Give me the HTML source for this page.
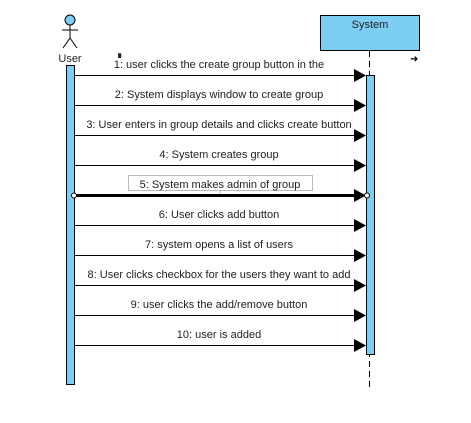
<!DOCTYPE html>
<html><head><style>body{margin:0;background:#fff}</style></head><body>
<svg width="471" height="418" xmlns="http://www.w3.org/2000/svg" font-family="Liberation Sans, sans-serif" font-size="11" fill="#222">
<rect width="471" height="418" fill="#fff"/>
<!-- actor -->
<circle cx="70" cy="20" r="5" fill="#7ccff3" stroke="#000"/>
<line x1="70" y1="25" x2="70" y2="38" stroke="#000"/>
<line x1="62" y1="30" x2="78" y2="30" stroke="#000"/>
<line x1="70" y1="38" x2="63" y2="48" stroke="#000"/>
<line x1="70" y1="38" x2="77" y2="48" stroke="#000"/>
<text x="70" y="62" text-anchor="middle">User</text>
<text x="115" y="56" font-size="8">▗</text>
<!-- system -->
<rect x="320.5" y="15.5" width="99" height="35" fill="#7ccff3" stroke="#000"/>
<text x="370" y="28" text-anchor="middle">System</text>
<text x="410" y="62" font-size="10" fill="#000">➜</text>
<line x1="369.5" y1="51" x2="369.5" y2="390" stroke="#000" stroke-dasharray="6,4"/>
<rect x="66.5" y="65.5" width="8" height="319" fill="#7ccff3" stroke="#000"/>
<rect x="366.5" y="75.5" width="8" height="279" fill="#7ccff3" stroke="#000"/>
<g stroke="#000">
<line x1="75" y1="75.5" x2="356" y2="75.5"/>
<line x1="75" y1="105.5" x2="356" y2="105.5"/>
<line x1="75" y1="135.5" x2="356" y2="135.5"/>
<line x1="75" y1="165.5" x2="356" y2="165.5"/>
<line x1="75" y1="195.5" x2="356" y2="195.5" stroke-width="3"/>
<line x1="75" y1="225.5" x2="356" y2="225.5"/>
<line x1="75" y1="255.5" x2="356" y2="255.5"/>
<line x1="75" y1="285.5" x2="356" y2="285.5"/>
<line x1="75" y1="315.5" x2="356" y2="315.5"/>
<line x1="75" y1="345.5" x2="356" y2="345.5"/>
</g>
<g fill="#000">
<polygon points="354,69 366,75.5 354,82"/>
<polygon points="354,99 366,105.5 354,112"/>
<polygon points="354,129 366,135.5 354,142"/>
<polygon points="354,159 366,165.5 354,172"/>
<polygon points="354,189 366,195.5 354,202"/>
<polygon points="354,219 366,225.5 354,232"/>
<polygon points="354,249 366,255.5 354,262"/>
<polygon points="354,279 366,285.5 354,292"/>
<polygon points="354,309 366,315.5 354,322"/>
<polygon points="354,339 366,345.5 354,352"/>
</g>
<circle cx="74" cy="195.5" r="2.5" fill="#fff" stroke="#000"/>
<circle cx="367" cy="195.5" r="2.5" fill="#fff" stroke="#000"/>
<rect x="128.5" y="175.5" width="184" height="15" fill="#fff" stroke="#bbb"/>
<line x1="220" y1="191" x2="220" y2="194" stroke="#bbb"/>
<g text-anchor="middle">
<text x="219" y="68">1: user clicks the create group button in the</text>
<text x="219" y="98">2: System displays window to create group</text>
<text x="219" y="128">3: User  enters in group details and clicks create button</text>
<text x="219" y="158">4: System creates group</text>
<text x="220" y="188">5: System makes  admin of group</text>
<text x="219" y="218">6: User clicks add button</text>
<text x="219" y="248">7: system opens a list of users</text>
<text x="219" y="278">8: User clicks checkbox for the users they want to add</text>
<text x="219" y="308">9: user  clicks the add/remove button</text>
<text x="219" y="338">10: user is added</text>
</g>
</svg>
</body></html>
